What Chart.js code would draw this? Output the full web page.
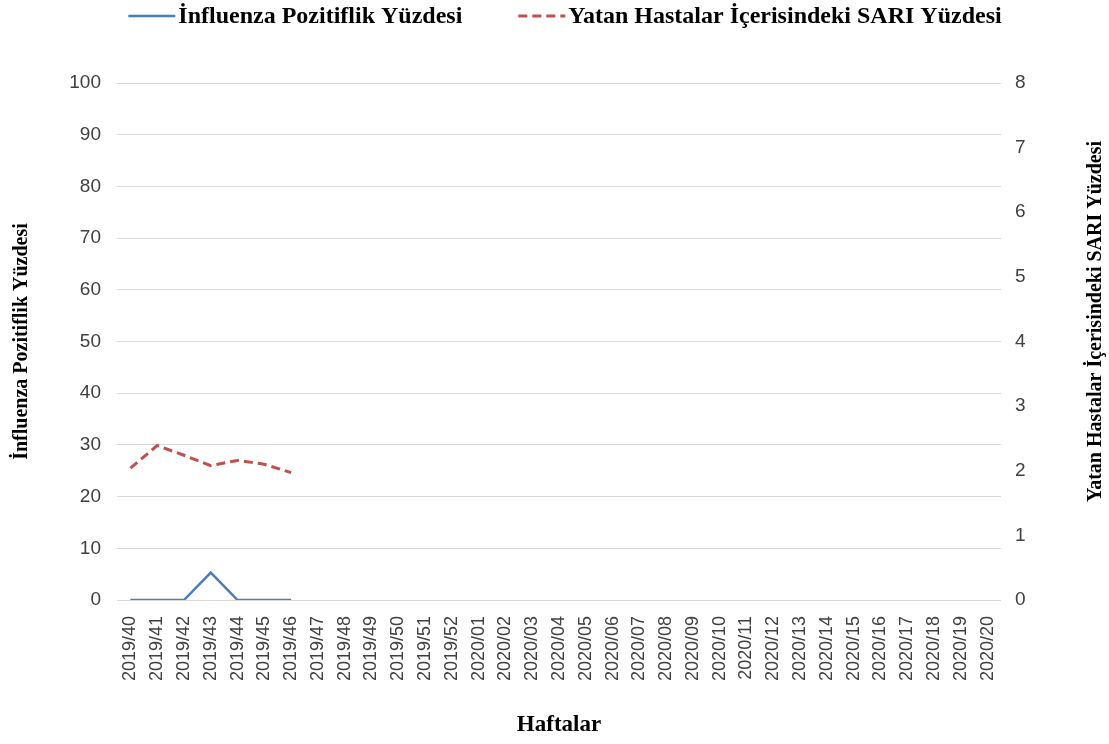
<!DOCTYPE html>
<html>
<head>
<meta charset="utf-8">
<script src="https://cdn.jsdelivr.net/npm/chart.js@4"></script>
<style>
  html, body { margin: 0; padding: 0; background: #fff; }
  #wrap { width: 1109px; height: 744px; position: relative; }
</style>
</head>
<body>
<div id="wrap"><canvas id="chart"></canvas></div>
<script>
const weeks = [
  "2019/40", "2019/41", "2019/42", "2019/43", "2019/44", "2019/45", "2019/46",
  "2019/47", "2019/48", "2019/49", "2019/50", "2019/51", "2019/52",
  "2020/01", "2020/02", "2020/03", "2020/04", "2020/05", "2020/06", "2020/07",
  "2020/08", "2020/09", "2020/10", "2020/11", "2020/12", "2020/13", "2020/14",
  "2020/15", "2020/16", "2020/17", "2020/18", "2020/19", "2020/20"
];
const fluPositive = [0, 0, 0, 5.3, 0, 0, 0];
const sariShare = [2.04, 2.39, 2.24, 2.08, 2.16, 2.10, 1.97];
const leftTicks = [0, 10, 20, 30, 40, 50, 60, 70, 80, 90, 100];
const rightTicks = [0, 1, 2, 3, 4, 5, 6, 7, 8];

const fluLabel = "İnfluenza Pozitiflik Yüzdesi";
const sariLabel = "Yatan Hastalar İçerisindeki SARI Yüzdesi";

const pad = arr => weeks.map((_, i) => (i < arr.length ? arr[i] : null));

// legend drawn by hand: the built-in one won't dash the sample line
const topLegend = {
  id: "topLegend",
  afterDraw(chart) {
    const ctx = chart.ctx;
    ctx.save();
    ctx.font = "bold 24px 'Liberation Serif'";
    ctx.textBaseline = "middle";
    ctx.fillStyle = "#000";
    const sample = 47, gap = 3, itemGap = 56, y = 16;
    const items = chart.data.datasets;
    const widths = items.map(d => sample + gap + ctx.measureText(d.label).width);
    const total = widths.reduce((a, b) => a + b, 0) + itemGap * (items.length - 1);
    let x = 565 - total / 2;
    items.forEach((d, i) => {
      ctx.beginPath();
      ctx.strokeStyle = d.borderColor;
      ctx.lineWidth = d.borderWidth;
      ctx.setLineDash(d.borderDash || []);
      ctx.moveTo(x, y);
      ctx.lineTo(x + sample, y);
      ctx.stroke();
      ctx.setLineDash([]);
      ctx.fillText(d.label, x + sample + gap, y + 1);
      x += widths[i] + itemGap;
    });
    ctx.restore();
  }
};

// right axis title reads bottom to top in the original
const rightTitle = {
  id: "rightTitle",
  afterDraw(chart) {
    const { ctx, chartArea } = chart;
    ctx.save();
    ctx.translate(chart.width - 13, (chartArea.top + chartArea.bottom) / 2 - 20);
    ctx.rotate(-Math.PI / 2);
    ctx.font = "bold 20px 'Liberation Serif'";
    ctx.fillStyle = "#000";
    ctx.textAlign = "center";
    ctx.textBaseline = "middle";
    ctx.fillText(sariLabel, 0, 0);
    ctx.restore();
  }
};

new Chart(document.getElementById("chart"), {
  type: "line",
  data: {
    labels: weeks,
    datasets: [
      {
        label: fluLabel,
        data: pad(fluPositive),
        yAxisID: "y",
        borderColor: "#4a7ebb",
        backgroundColor: "#4a7ebb",
        borderWidth: 2.5,
        pointRadius: 0,
        tension: 0
      },
      {
        label: sariLabel,
        data: pad(sariShare),
        yAxisID: "y1",
        borderColor: "#c0504d",
        backgroundColor: "#c0504d",
        borderWidth: 3,
        borderDash: [9, 5],
        pointRadius: 0,
        tension: 0
      }
    ]
  },
  options: {
    responsive: true,
    maintainAspectRatio: false,
    animation: false,
    layout: { padding: { left: 0, right: 0, top: 83, bottom: 0 } },
    plugins: {
      legend: { display: false },
      tooltip: { enabled: false }
    },
    scales: {
      x: {
        offset: true,
        grid: { display: false },
        border: { display: false },
        ticks: {
          autoSkip: false,
          maxRotation: 90,
          minRotation: 90,
          padding: 8,
          color: "#404040",
          font: { family: "'Liberation Sans'", size: 18 }
        },
        title: {
          display: true,
          text: "Haftalar",
          color: "#000",
          padding: { top: 0, bottom: 5 },
          font: { family: "'Liberation Serif'", size: 23, weight: "bold", lineHeight: 1.2 }
        },
        afterFit(s) { s.height = 144; }
      },
      y: {
        position: "left",
        min: 0,
        max: 100,
        afterBuildTicks(s) { s.ticks = leftTicks.map(v => ({ value: v })); },
        grid: { color: "#d9d9d9", lineWidth: 1, drawTicks: false },
        border: { display: false },
        ticks: {
          padding: 16,
          color: "#404040",
          font: { family: "'Liberation Sans Narrow', 'Liberation Sans'", size: 19 }
        },
        title: {
          display: true,
          text: fluLabel,
          color: "#000",
          padding: { top: 10, bottom: 0 },
          font: { family: "'Liberation Serif'", size: 20, weight: "bold", lineHeight: 1.2 }
        },
        afterFit(s) { s.width = 117; }
      },
      y1: {
        position: "right",
        min: 0,
        max: 8,
        afterBuildTicks(s) { s.ticks = rightTicks.map(v => ({ value: v })); },
        grid: { display: false, drawTicks: false },
        border: { display: false },
        ticks: {
          padding: 14,
          color: "#404040",
          font: { family: "'Liberation Sans Narrow', 'Liberation Sans'", size: 19 }
        },
        afterFit(s) { s.width = 108; }
      }
    }
  },
  plugins: [topLegend, rightTitle]
});
</script>
</body>
</html>
